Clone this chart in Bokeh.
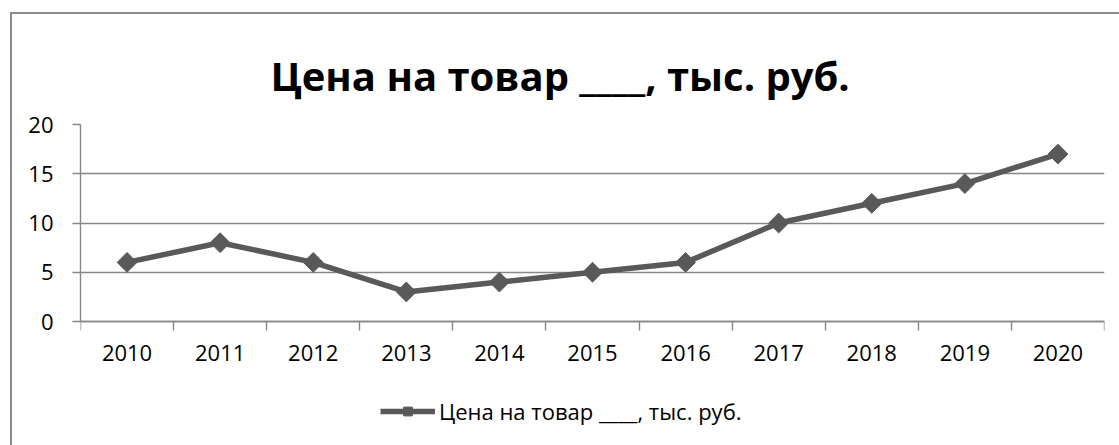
import numpy as np
from bokeh.plotting import figure
from bokeh.models import FixedTicker, Legend, LegendItem, Range1d
from bokeh.embed import file_html
from bokeh.resources import INLINE

years = [2010, 2011, 2012, 2013, 2014, 2015, 2016, 2017, 2018, 2019, 2020]
prices = [6, 8, 6, 3, 4, 5, 6, 10, 12, 14, 17]
y_ticks = [0, 5, 10, 15, 20]
title_text = "Цена на товар ____, тыс. руб."
series_name = "Цена на товар ____, тыс. руб."

FONT = "Open Sans"
GRAY = "#878787"
LINE = "#595959"

# The frame extends below the value axis so the legend can live inside it;
# the x axis is pinned at y = 0.
p = figure(frame_width=1024, frame_height=316,
           x_range=Range1d(years[0] - 0.5, years[-1] + 0.5),
           y_range=Range1d(-12.08, 20),
           output_backend="svg", toolbar_location=None,
           min_border_left=68, min_border_right=15,
           min_border_top=110, min_border_bottom=5)
p.styles = {"margin-left": "10px", "margin-top": "12px",
            "border-left": "2px solid #8c8c8c", "border-top": "2px solid #8c8c8c"}

p.outline_line_color = None
p.background_fill_color = "white"
p.border_fill_color = "white"

p.title.text = title_text
p.title.text_font = FONT
p.title.text_font_style = "bold"
p.title.text_font_size = "40px"
p.title.text_color = "black"
p.title.align = "left"
p.title.offset = 190
p.title.standoff = 44

# axes
p.xgrid.grid_line_color = None
p.ygrid.grid_line_color = GRAY
p.ygrid.grid_line_width = 1.4
p.yaxis.ticker = FixedTicker(ticks=y_ticks)
p.yaxis.bounds = (y_ticks[0], y_ticks[-1])
p.yaxis.major_tick_out = 8
p.yaxis.major_tick_in = 0
p.yaxis.major_label_standoff = 19

bounds = [y - 0.5 for y in years] + [years[-1] + 0.5]
p.xaxis.fixed_location = 0
p.xaxis.ticker = FixedTicker(ticks=years, minor_ticks=bounds)
p.xaxis.minor_tick_out = 9
p.xaxis.minor_tick_in = 0
p.xaxis.major_label_standoff = 14
p.xaxis.major_label_overrides = {y: str(y) for y in years}

for ax in (p.xaxis[0], p.yaxis[0]):
    ax.axis_line_color = GRAY
    ax.axis_line_width = 1.4
    ax.major_tick_line_color = GRAY if ax is p.yaxis[0] else None
    ax.major_tick_line_width = 1.4
    ax.minor_tick_line_color = GRAY if ax is p.xaxis[0] else None
    ax.minor_tick_line_width = 1.4
    ax.major_label_text_font = FONT
    ax.major_label_text_font_size = "22px"
    ax.major_label_text_color = "black"

line_r = p.line(years, prices, line_color=LINE, line_width=5.5)
pts_r = p.scatter(years, prices, marker="square", size=14, angle=np.pi / 4,
                  fill_color=LINE, line_color=LINE)

legend = Legend(items=[LegendItem(label=series_name, renderers=[line_r, pts_r])],
                location=(300, 14), orientation="horizontal",
                border_line_color=None, background_fill_alpha=0,
                padding=0, margin=0, glyph_width=55, glyph_height=22,
                label_standoff=4, label_text_font=FONT,
                label_text_font_size="22px", label_text_color="black")
p.add_layout(legend, "center")

open("out.html", "w").write(file_html(p, INLINE))
